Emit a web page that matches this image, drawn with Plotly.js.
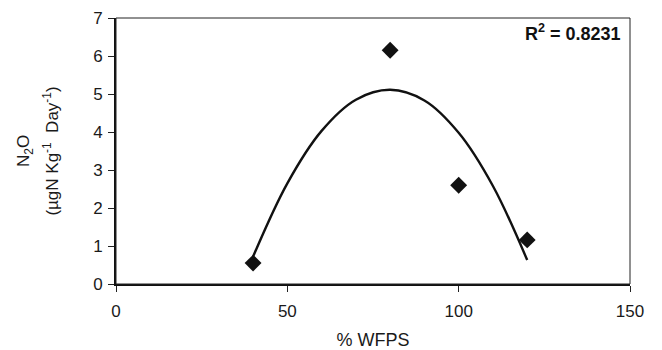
<!DOCTYPE html>
<html>
<head>
<meta charset="utf-8">
<script src="https://cdn.plot.ly/plotly-3.0.1.min.js"></script>
<style>html,body{margin:0;padding:0;background:#fff}#chart{width:662px;height:350px}</style>
</head>
<body>
<div id="chart"></div>
<script>
// Observed data points
const wfps = [40, 80, 100, 120];
const n2o = [0.55, 6.15, 2.6, 1.16];
// Trend curve
const curveX = [40, 50, 60, 70, 80, 90, 100, 110, 120];
const curveY = [0.72, 2.65, 4.03, 4.85, 5.11, 4.83, 3.98, 2.58, 0.63];
const xTicks = [0, 50, 100, 150];
const yTicks = [0, 1, 2, 3, 4, 5, 6, 7];
const r2Label = "R<sup>2</sup> = 0.8231";
const yTitleTop = "N<sub>2</sub>O";
const yTitleUnits = "(µgN Kg<sup>-1</sup>  Day<sup>-1</sup>)";

const fam = "Liberation Sans, Arial, sans-serif";
const txt = "#1a1a1a";

const traces = [
  {x: curveX, y: curveY, type: "scatter", mode: "lines",
   line: {color: "#111", width: 2.4, shape: "spline"}, hoverinfo: "skip"},
  {x: wfps, y: n2o, type: "scatter", mode: "markers",
   marker: {symbol: "diamond", size: 13, color: "#111"}}
];

const layout = {
  width: 662, height: 350,
  margin: {l: 116, r: 32, t: 18, b: 66},
  showlegend: false,
  paper_bgcolor: "#fff", plot_bgcolor: "#fff",
  font: {family: fam, size: 17, color: txt},
  xaxis: {
    range: [0, 150], tickvals: xTicks, ticks: "outside", ticklen: 6, tickcolor: "#222", tickwidth: 1,
    showline: true, linecolor: "#111", linewidth: 1.8, mirror: false,
    showgrid: false, zeroline: false, fixedrange: true,
    ticklabelstandoff: 5,
    tickfont: {size: 17, family: fam, color: txt},
    title: {text: "% WFPS", font: {size: 18, family: fam, color: txt}, standoff: 15}
  },
  yaxis: {
    range: [0, 7], tickvals: yTicks, ticks: "outside", ticklen: 6, tickcolor: "#222", tickwidth: 1,
    showline: true, linecolor: "#111", linewidth: 1.8, mirror: false,
    showgrid: false, zeroline: false, fixedrange: true,
    ticklabelstandoff: 2,
    tickfont: {size: 17, family: fam, color: txt},
    title: {text: yTitleUnits, font: {size: 17, family: fam, color: txt}, standoff: 30}
  },
  shapes: [{
    type: "rect", xref: "paper", yref: "paper", x0: 0, x1: 1, y0: 0, y1: 1,
    line: {color: "#222", width: 1}, layer: "above"
  }],
  annotations: [{
    text: "<b>" + r2Label + "</b>", xref: "paper", yref: "paper",
    x: 0.986, y: 0.944, xanchor: "right", yanchor: "middle", showarrow: false,
    font: {size: 18, family: fam, color: "#111"}
  }, {
    text: yTitleTop, xref: "paper", yref: "paper", textangle: -90,
    x: -0.177, y: 0.5, xanchor: "center", yanchor: "middle", showarrow: false,
    font: {size: 17, family: fam, color: txt}
  }]
};

Plotly.newPlot("chart", traces, layout, {displayModeBar: false, staticPlot: true});
</script>
</body>
</html>
